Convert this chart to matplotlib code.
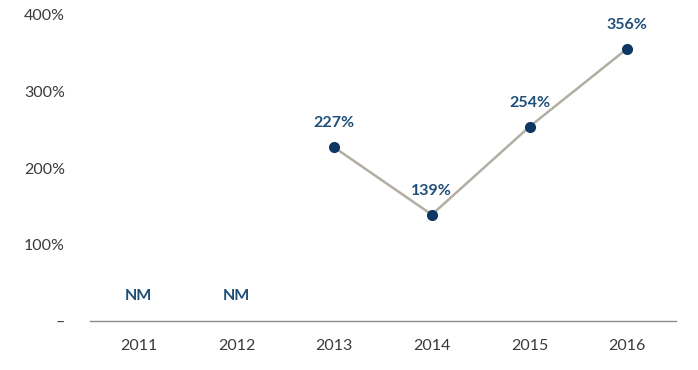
import matplotlib
matplotlib.use("Agg")
import matplotlib.pyplot as plt
import numpy as np

years = ["2011", "2012", "2013", "2014", "2015", "2016"]
ratio_pct = [np.nan, np.nan, 227, 139, 254, 356]
y_ticks = [0, 100, 200, 300, 400]
y_tick_labels = ["–", "100%", "200%", "300%", "400%"]

plt.rcParams["font.family"] = ["Lato", "DejaVu Sans"]

fig = plt.figure(figsize=(6.98, 3.70), dpi=100)
ax = fig.add_axes([90 / 698, 49 / 370, 586 / 698, 306 / 370])

x = np.arange(len(years))
vals = np.array(ratio_pct, dtype=float)

ax.plot(x, vals, color="#b3aea3", lw=1.8, zorder=2)
ax.plot(x, vals, "o", color="#0e3763", ms=7, zorder=3)

label_color = "#1f4e79"
for xi, v in zip(x, vals):
    if np.isnan(v):
        ax.annotate("NM", (xi, 0), xytext=(0, 25), textcoords="offset pixels",
                    ha="center", va="center", fontsize=11.5, fontweight="bold",
                    color=label_color)
    else:
        ax.annotate(f"{v:.0f}%", (xi, v), xytext=(0, 24), textcoords="offset pixels",
                    ha="center", va="center", fontsize=11.5, fontweight="bold",
                    color=label_color)

ax.set_xlim(-0.5, len(years) - 0.5)
ax.set_ylim(0, 400)
ax.set_xticks(x)
ax.set_xticklabels(years)
ax.set_yticks(y_ticks)
ax.set_yticklabels(y_tick_labels)

for side in ("top", "right", "left"):
    ax.spines[side].set_visible(False)
ax.spines["bottom"].set_color("#8c8c8c")
ax.spines["bottom"].set_linewidth(1.0)

ax.tick_params(axis="both", length=0, labelsize=11.5, colors="#3a3a3a")
ax.tick_params(axis="y", pad=18)
ax.tick_params(axis="x", pad=13)

fig.savefig("out.png", dpi=100, facecolor="white")
